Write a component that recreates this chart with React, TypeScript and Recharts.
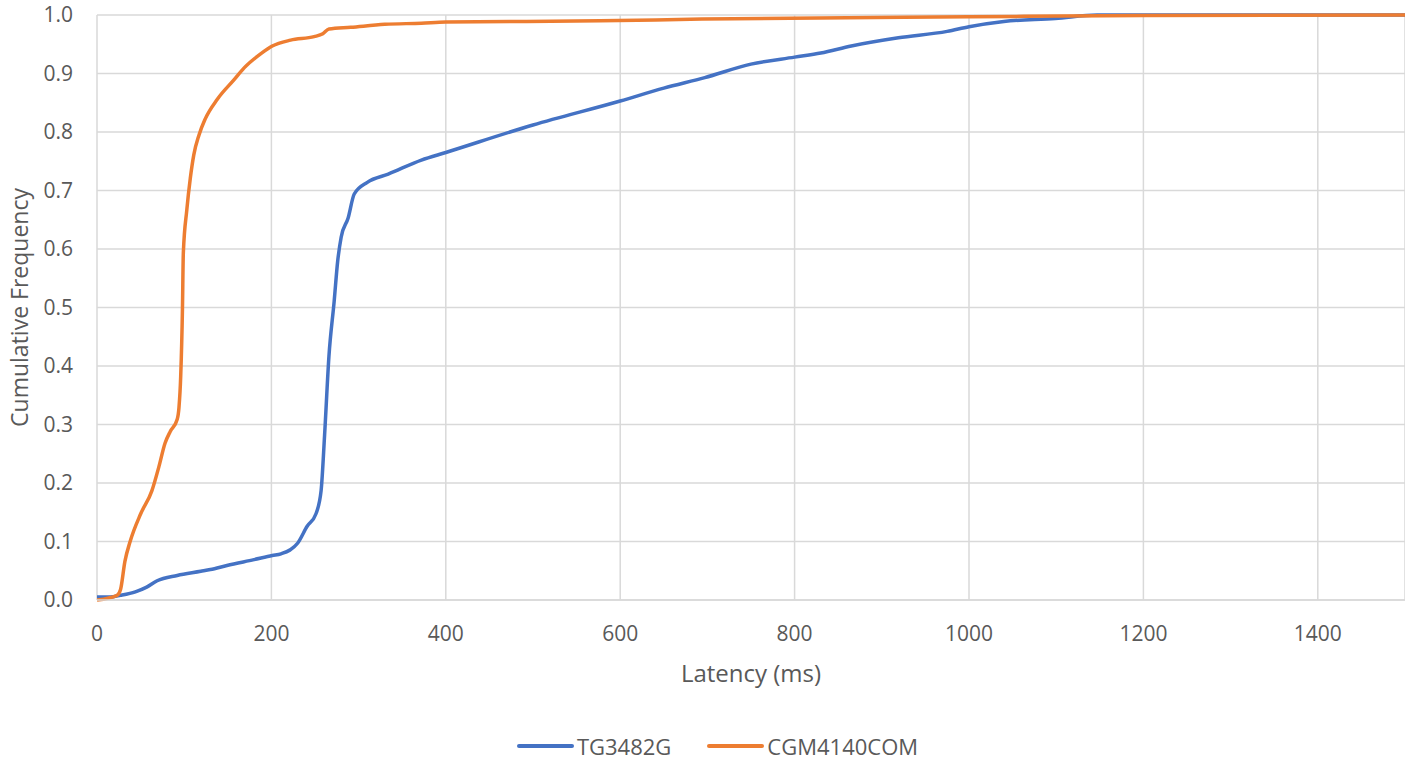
import { LineChart, Line, XAxis, YAxis, CartesianGrid, Legend } from 'recharts';

// TG3482G cumulative latency distribution
const blueLatency = [
  0, 15, 27, 44, 57, 69, 92, 119, 130, 149, 180, 201, 211, 230, 241, 251, 257, 261, 266, 272, 276,
  280, 288, 295, 310, 334, 372, 400, 500, 600, 650, 697, 750, 800, 830, 865, 919, 975, 1000,
  1040, 1099, 1147, 1500,
];
const blueFreq = [
  0.005, 0.005, 0.008, 0.014, 0.022, 0.033, 0.042, 0.049, 0.052, 0.059, 0.069, 0.076, 0.079, 0.097,
  0.126, 0.147, 0.187, 0.282, 0.417, 0.511, 0.579, 0.62, 0.653, 0.694, 0.714, 0.728, 0.752, 0.765,
  0.812, 0.853, 0.875, 0.893, 0.916, 0.928, 0.935, 0.947, 0.961, 0.972, 0.98, 0.989, 0.994, 1.0,
  1.0,
];

// CGM4140COM cumulative latency distribution
const orangeLatency = [
  0, 23, 27, 32, 38, 50, 63, 71, 78, 84, 92, 94, 96, 98, 99, 103, 107, 111, 117, 124, 138, 157,
  169, 188, 201, 222, 249, 259, 266, 291, 330, 372, 400, 577, 694, 1000, 1200, 1500,
];
const orangeFreq = [
  0, 0.008, 0.018, 0.066, 0.1, 0.147, 0.187, 0.228, 0.268, 0.288, 0.309, 0.329, 0.383, 0.498,
  0.593, 0.667, 0.721, 0.761, 0.795, 0.822, 0.856, 0.889, 0.91, 0.934, 0.947, 0.957, 0.963,
  0.968, 0.976, 0.979, 0.984, 0.986, 0.988, 0.99, 0.993, 0.997, 0.999, 1.0,
];

const xTicks = [0, 200, 400, 600, 800, 1000, 1200, 1400];
const yTicks = [0, 0.1, 0.2, 0.3, 0.4, 0.5, 0.6, 0.7, 0.8, 0.9, 1.0];

const series = [
  { name: 'TG3482G', color: '#4472C4', data: blueLatency.map((x, i) => ({ x, y: blueFreq[i] })) },
  { name: 'CGM4140COM', color: '#ED7D31', data: orangeLatency.map((x, i) => ({ x, y: orangeFreq[i] })) },
];

const FONT = '"Open Sans", sans-serif';
const TEXT = '#595959';
const GRID = '#d9d9d9';

function LegendBox() {
  return (
    <div
      style={{
        height: 30,
        display: 'flex',
        justifyContent: 'center',
        alignItems: 'center',
        gap: 36,
        fontFamily: FONT,
        fontSize: 22,
        lineHeight: '30px',
        color: TEXT,
        paddingLeft: 30,
      }}
    >
      {series.map((s) => (
        <div key={s.name} style={{ display: 'flex', alignItems: 'center', gap: 3 }}>
          <span style={{ width: 57, height: 4, borderRadius: 2, background: s.color, display: 'inline-block' }} />
          <span>{s.name}</span>
        </div>
      ))}
    </div>
  );
}

export default function App() {
  return (
    <div
      style={{
        position: 'absolute',
        left: 0,
        top: 0,
        width: 1405,
        height: 761,
        overflow: 'hidden',
        background: '#fff',
      }}
    >
      <LineChart width={1405} height={761} margin={{ top: 15, right: 0, left: 0, bottom: 0 }}>
        <CartesianGrid stroke={GRID} strokeWidth={1.5} />
        <XAxis
          type="number"
          dataKey="x"
          domain={[0, 1500]}
          ticks={xTicks}
          allowDataOverflow
          height={131}
          tickSize={0}
          tickMargin={26}
          axisLine={{ stroke: GRID, strokeWidth: 1.5 }}
          tick={{ fill: TEXT, fontSize: 21, fontFamily: FONT }}
          label={{
            value: 'Latency (ms)',
            position: 'insideTop',
            offset: 65,
            style: { fill: TEXT, fontSize: 24, fontFamily: FONT },
          }}
        />
        <YAxis
          type="number"
          dataKey="y"
          domain={[0, 1]}
          ticks={yTicks}
          width={97}
          tickSize={0}
          tickMargin={24}
          axisLine={false}
          tickFormatter={(v: number) => v.toFixed(1)}
          tick={{ fill: TEXT, fontSize: 21, fontFamily: FONT }}
          label={{
            value: 'Cumulative Frequency',
            angle: -90,
            position: 'insideLeft',
            offset: 20,
            style: { fill: TEXT, fontSize: 23, fontFamily: FONT, textAnchor: 'middle' },
          }}
        />
        <Legend verticalAlign="bottom" content={() => <LegendBox />} />
        {series.map((s) => (
          <Line
            key={s.name}
            name={s.name}
            data={s.data}
            dataKey="y"
            type="monotone"
            stroke={s.color}
            strokeWidth={3.5}
            dot={false}
            isAnimationActive={false}
          />
        ))}
      </LineChart>
    </div>
  );
}
